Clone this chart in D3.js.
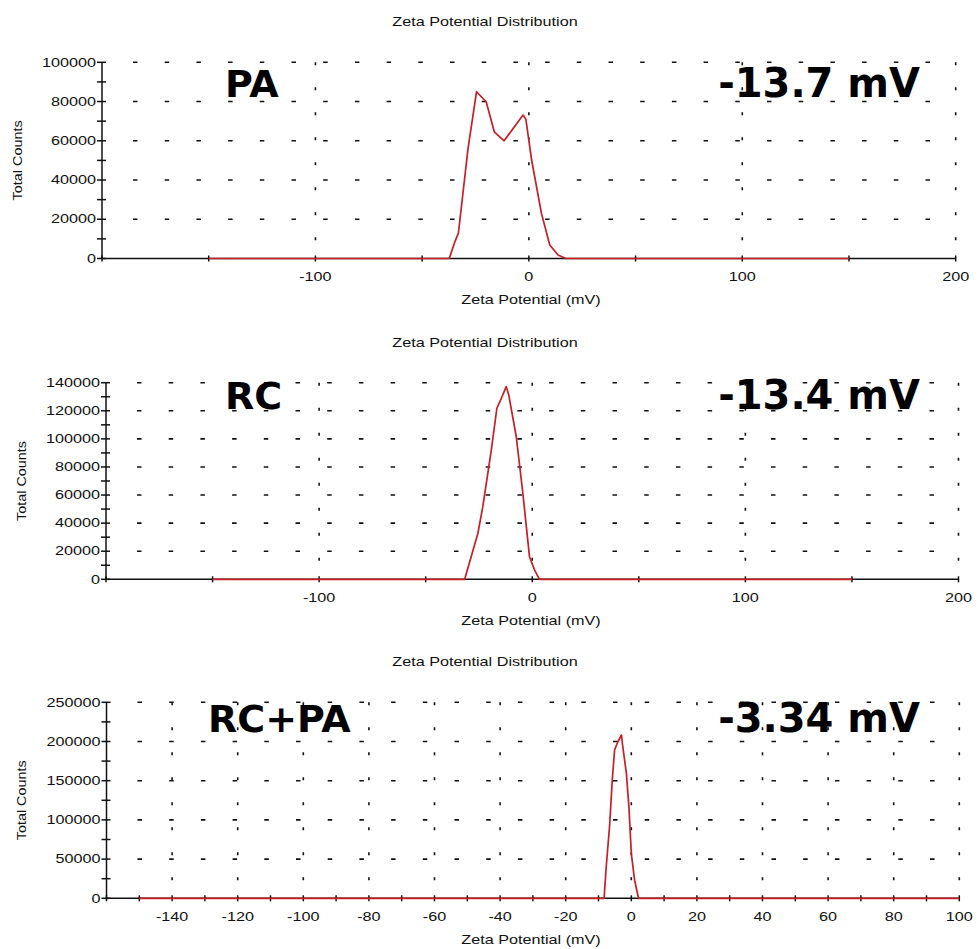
<!DOCTYPE html>
<html>
<head>
<meta charset="utf-8">
<script src="https://cdn.jsdelivr.net/npm/d3@7"></script>
<style>
  body { margin: 0; background: #fff; }
  svg { display: block; }
</style>
</head>
<body>
<svg width="978" height="949"></svg>
<script>
// values
const paX = [-150, -37.3, -34.5, -33, -28.5, -24.5, -20, -16.2, -11.6, -2.7, -1.4, 1.3, 5.9, 9.8, 13.7, 17.3, 150];
const paY = [0, 0, 9000, 13000, 56000, 85000, 79900, 64600, 60000, 73100, 71000, 50200, 23000, 6900, 1800, 0, 0];

const rcX = [-150, -31.7, -25.5, -23.2, -19.2, -16.6, -14.5, -12.2, -11, -7.5, -4.4, -1.3, 1.1, 3.4, 150];
const rcY = [0, 0, 32800, 51700, 92100, 121800, 128900, 137200, 131200, 101500, 61200, 16100, 6600, 0, 0];

const mixX = [-150, -8.3, -7.6, -6.6, -5.8, -5.1, -4.1, -3.0, -2.6, -1.5, -0.7, 0, 1, 2.2, 100];
const mixY = [0, 0, 42500, 93500, 150900, 189200, 199700, 208300, 193400, 159400, 114800, 57400, 23300, 0, 0];

// tick labels
const wideXMajor = [-100, 0, 100, 200];
const wideXMinor = [-200, -150, -50, 50, 150];
const mixXMajor = [-140, -120, -100, -80, -60, -40, -20, 0, 20, 40, 60, 80, 100];
const mixXMinor = [-160, -150, -130, -110, -90, -70, -50, -30, -10, 10, 30, 50, 70, 90];
const paYMajor = [0, 20000, 40000, 60000, 80000, 100000];
const paYMinor = [10000, 30000, 50000, 70000, 90000];
const rcYMajor = [0, 20000, 40000, 60000, 80000, 100000, 120000, 140000];
const rcYMinor = [10000, 30000, 50000, 70000, 90000, 110000, 130000];
const mixYMajor = [0, 50000, 100000, 150000, 200000, 250000];
const mixYMinor = [25000, 75000, 125000, 175000, 225000];

const sampleNames = ["PA", "RC", "RC+PA"];
const zetaValues = ["-13.7 mV", "-13.4 mV", "-3.34 mV"];

const svg = d3.select("svg");
const RED = "#c41f26";
const SMALL_FONT = "'Liberation Sans', Arial, sans-serif";
const STRETCH = 1.35;

svg.append("rect").attr("width", 978).attr("height", 949).attr("fill", "#fff");

// small text in the original is squashed wide, so scale it horizontally
function wideText(parent, x, y, str, anchor, rotate) {
    const g = parent.append("g")
        .attr("transform", `translate(${x},${y})` + (rotate ? " rotate(-90)" : "") + ` scale(${rotate ? 1.2 : STRETCH},1)`);
    g.append("text")
        .attr("text-anchor", anchor)
        .attr("dominant-baseline", "central")
        .attr("font-family", SMALL_FONT)
        .attr("font-size", 12)
        .attr("fill", "#111")
        .text(str);
}

const panels = [
    { xs: paX, ys: paY, x0: 102, x1: 955.7, yBottom: 258.5, yTop: 62.3,
      xDomain: [-200, 200], yMax: 100000,
      xMajor: wideXMajor, xMinor: wideXMinor, yMajor: paYMajor, yMinor: paYMinor,
      titleY: 22, xLabelY: 300, yLabelX: 18, nameX: 225, nameY: 97 },
    { xs: rcX, ys: rcY, x0: 106, x1: 958.5, yBottom: 579.3, yTop: 382.7,
      xDomain: [-200, 200], yMax: 140000,
      xMajor: wideXMajor, xMinor: wideXMinor, yMajor: rcYMajor, yMinor: rcYMinor,
      titleY: 343, xLabelY: 621, yLabelX: 22, nameX: 225, nameY: 409 },
    { xs: mixX, ys: mixY, x0: 106.5, x1: 959.3, yBottom: 898.3, yTop: 702.3,
      xDomain: [-160, 100], yMax: 250000,
      xMajor: mixXMajor, xMinor: mixXMinor, yMajor: mixYMajor, yMinor: mixYMinor,
      titleY: 662, xLabelY: 940, yLabelX: 22, nameX: 208, nameY: 731.7 }
];

function drawPanel(p, i) {
    const x = d3.scaleLinear().domain(p.xDomain).range([p.x0, p.x1]);
    const y = d3.scaleLinear().domain([0, p.yMax]).range([p.yBottom, p.yTop]);
    const g = svg.append("g").attr("class", "panel");

    // horizontal dashed grid
    g.append("g").selectAll("line")
        .data(p.yMajor.filter(d => d > 0))
        .enter().append("line")
        .attr("x1", p.x0 + 31).attr("x2", p.x1)
        .attr("y1", d => y(d)).attr("y2", d => y(d))
        .attr("stroke", "#111").attr("stroke-width", 1.6)
        .attr("stroke-dasharray", "4.5,27.2");

    // vertical dotted grid
    g.append("g").selectAll("line")
        .data(p.xMajor)
        .enter().append("line")
        .attr("x1", d => x(d)).attr("x2", d => x(d))
        .attr("y1", p.yTop).attr("y2", p.yBottom)
        .attr("stroke", "#111").attr("stroke-width", 1.6)
        .attr("stroke-dasharray", "3,22");

    // axes
    g.append("line")
        .attr("x1", p.x0).attr("x2", p.x1)
        .attr("y1", p.yBottom).attr("y2", p.yBottom)
        .attr("stroke", "#111").attr("stroke-width", 1.5);
    g.append("line")
        .attr("x1", p.x0).attr("x2", p.x0)
        .attr("y1", p.yTop).attr("y2", p.yBottom)
        .attr("stroke", "#111").attr("stroke-width", 1.5);

    g.append("g").selectAll("line")
        .data(p.xMajor.concat(p.xMinor))
        .enter().append("line")
        .attr("x1", d => x(d)).attr("x2", d => x(d))
        .attr("y1", p.yBottom - 3).attr("y2", p.yBottom + 3)
        .attr("stroke", "#111").attr("stroke-width", 1.5);

    g.append("g").selectAll("line")
        .data(p.yMajor.concat(p.yMinor))
        .enter().append("line")
        .attr("x1", p.x0 - 5).attr("x2", p.x0 + 4)
        .attr("y1", d => y(d)).attr("y2", d => y(d))
        .attr("stroke", "#111").attr("stroke-width", 1.5);

    for (const t of p.xMajor) wideText(g, x(t), p.yBottom + 18, t, "middle");
    for (const t of p.yMajor) wideText(g, p.x0 - 6, y(t), t, "end");

    wideText(g, 485, p.titleY, "Zeta Potential Distribution", "middle");
    wideText(g, 531, p.xLabelY, "Zeta Potential (mV)", "middle");
    wideText(g, p.yLabelX, (p.yTop + p.yBottom) / 2, "Total Counts", "middle", true);

    // distribution curve
    const line = d3.line().x(d => x(d[0])).y(d => y(d[1]));
    g.append("path")
        .datum(p.xs.map((v, k) => [v, p.ys[k]]))
        .attr("d", line)
        .attr("fill", "none")
        .attr("stroke", RED)
        .attr("stroke-width", 1.7)
        .attr("stroke-linejoin", "round");

    // sample name and mean zeta potential
    g.append("text")
        .attr("x", p.nameX).attr("y", p.nameY)
        .attr("font-family", "'DejaVu Sans', sans-serif")
        .attr("font-weight", "bold").attr("font-size", 38)
        .text(sampleNames[i]);
    g.append("text")
        .attr("x", 920).attr("y", p.nameY)
        .attr("text-anchor", "end")
        .attr("font-family", "'DejaVu Sans', sans-serif")
        .attr("font-weight", "bold").attr("font-size", 40)
        .text(zetaValues[i]);
}

panels.forEach(drawPanel);
</script>
</body>
</html>
